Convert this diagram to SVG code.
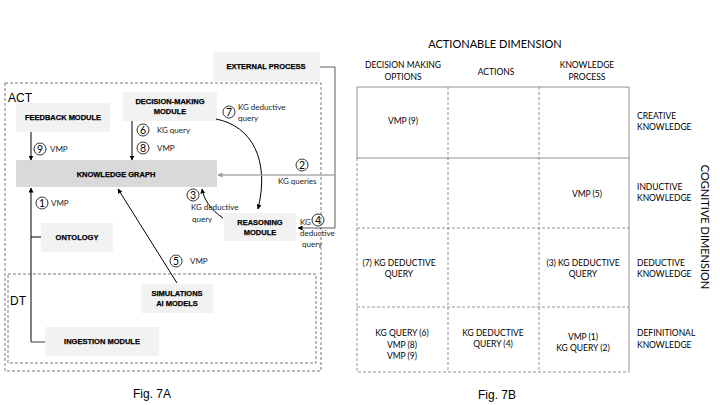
<svg xmlns="http://www.w3.org/2000/svg" width="720" height="405" viewBox="0 0 720 405">
<defs>
<marker id="ah" viewBox="0 0 10 10" refX="9" refY="5" markerWidth="5" markerHeight="5" markerUnits="userSpaceOnUse" orient="auto"><path d="M0,0 L10,5 L0,10 z" fill="#000"/></marker>
<marker id="ahg" viewBox="0 0 10 10" refX="9" refY="5" markerWidth="5" markerHeight="5" markerUnits="userSpaceOnUse" orient="auto"><path d="M0,0 L10,5 L0,10 z" fill="#999"/></marker>
<style>
.box{fill:#f2f2f2;stroke:none}
.kg{fill:#d9d9d9;stroke:none}
.bl{font-family:"Liberation Sans",Arial,sans-serif;font-weight:bold;font-size:7.5px;fill:#000;stroke:#000;stroke-width:0.25;text-anchor:middle}
.sm{font-family:Lato,"Liberation Sans",sans-serif;font-size:8px;fill:#222}
.num{font-family:Lato,"Liberation Sans",sans-serif;font-size:10.5px;fill:#000;text-anchor:middle}
.circ{fill:none;stroke:#000;stroke-width:0.8}
.dash{fill:none;stroke:#555;stroke-width:0.8;stroke-dasharray:3,2}
.big{font-family:"Liberation Sans",Arial,sans-serif;font-size:12px;fill:#000}
.ln{fill:none;stroke:#000;stroke-width:1}
.gt{font-family:Lato,"Liberation Sans",sans-serif;font-size:8.5px;fill:#000;text-anchor:middle}
.rl{font-family:Lato,"Liberation Sans",sans-serif;font-size:8.5px;fill:#000}
.hd{font-family:Lato,"Liberation Sans",sans-serif;font-size:11px;fill:#000;text-anchor:middle}
.gs{fill:none;stroke:#777;stroke-width:0.8}
.gd{fill:none;stroke:#777;stroke-width:0.8;stroke-dasharray:3,2}
</style>
</defs>

<!-- Fig 7A containers -->
<rect class="dash" x="5" y="83" width="316" height="288"/>
<text class="big" x="8" y="102">ACT</text>
<rect class="dash" x="8" y="274" width="308" height="89"/>
<text class="big" x="10" y="305">DT</text>

<g id="external-process"><rect class="box" x="213" y="52" width="107" height="29"/><text class="bl" x="266" y="69">EXTERNAL PROCESS</text></g>
<g id="feedback-module"><rect class="box" x="16" y="103" width="94" height="29"/><text class="bl" x="63" y="120">FEEDBACK MODULE</text></g>
<g id="decision-making-module"><rect class="box" x="123" y="92" width="94" height="29"/><text class="bl" x="170" y="104">DECISION-MAKING</text><text class="bl" x="170" y="114">MODULE</text></g>
<g id="knowledge-graph"><rect class="kg" x="16" y="160" width="201" height="27"/><text class="bl" x="116" y="177">KNOWLEDGE GRAPH</text></g>
<g id="reasoning-module"><rect class="box" x="224" y="213" width="72" height="28"/><text class="bl" x="260" y="225">REASONING</text><text class="bl" x="260" y="235">MODULE</text></g>
<g id="ontology"><rect class="box" x="41" y="223" width="72" height="29"/><text class="bl" x="77" y="240">ONTOLOGY</text></g>
<g id="simulations-ai-models"><rect class="box" x="141" y="284" width="72" height="29"/><text class="bl" x="177" y="296">SIMULATIONS</text><text class="bl" x="177" y="306">AI MODELS</text></g>
<g id="ingestion-module"><rect class="box" x="45" y="327" width="114" height="29"/><text class="bl" x="102" y="344">INGESTION MODULE</text></g>

<g id="connectors">
<line class="ln" x1="31" y1="132" x2="31" y2="160" marker-end="url(#ah)"/>
<line class="ln" x1="132" y1="121" x2="132" y2="160" marker-end="url(#ah)"/>
<path class="ln" d="M216 119 C252 126 270 160 258 209" marker-end="url(#ah)"/>
<path class="ln" d="M223 218 C211 210 204 200 202 189" marker-end="url(#ah)"/>
<line class="ln" x1="177" y1="283" x2="118" y2="189" marker-end="url(#ah)"/>
<line class="ln" stroke-width="1.3" x1="31" y1="342" x2="31" y2="188" marker-end="url(#ah)"/>
<line class="ln" x1="31" y1="237" x2="41" y2="237"/>
<line x1="31" y1="342" x2="45" y2="342" stroke="#666" stroke-width="1.3"/>
<path fill="none" stroke="#333" stroke-width="0.8" d="M320 67 H335 V228 H298" marker-end="url(#ah)"/>
<line stroke="#aaa" stroke-width="1.6" x1="335" y1="175" x2="218" y2="175" marker-end="url(#ahg)"/>
</g>

<!-- connector labels -->
<circle class="circ" cx="40" cy="149" r="6"/><text class="num" x="40" y="153">9</text><text class="sm" x="50" y="152">VMP</text>
<circle class="circ" cx="143" cy="130" r="6"/><text class="num" x="143" y="134">6</text><text class="sm" x="157" y="133">KG query</text>
<circle class="circ" cx="143" cy="148" r="6"/><text class="num" x="143" y="152">8</text><text class="sm" x="157" y="151">VMP</text>
<circle class="circ" cx="229" cy="112" r="6"/><text class="num" x="229" y="116">7</text><text class="sm" x="238" y="110">KG deductive</text><text class="sm" x="238" y="121">query</text>
<circle class="circ" cx="302" cy="165" r="6"/><text class="num" x="302" y="169">2</text><text class="sm" x="278" y="184">KG queries</text>
<circle class="circ" cx="193" cy="195" r="6"/><text class="num" x="193" y="199">3</text><text class="sm" x="191" y="210">KG deductive</text><text class="sm" x="192" y="222">query</text>
<text class="sm" x="300" y="225">KG</text><circle class="circ" cx="318" cy="220" r="6"/><text class="num" x="318" y="224">4</text><text class="sm" x="300" y="236">deductive</text><text class="sm" x="302" y="247">query</text>
<circle class="circ" cx="42" cy="203" r="6"/><text class="num" x="42" y="207">1</text><text class="sm" x="51" y="206">VMP</text>
<circle class="circ" cx="176" cy="261" r="6"/><text class="num" x="176" y="265">5</text><text class="sm" x="190" y="264">VMP</text>
<text class="big" x="152" y="398" text-anchor="middle">Fig. 7A</text>

<!-- Fig 7B -->
<text class="hd" x="495" y="48">ACTIONABLE DIMENSION</text>
<text class="gt" x="403" y="68">DECISION MAKING</text><text class="gt" x="403" y="80">OPTIONS</text>
<text class="gt" x="496" y="75">ACTIONS</text>
<text class="gt" x="587" y="68">KNOWLEDGE</text><text class="gt" x="587" y="80">PROCESS</text>

<path class="gs" d="M357 158 V87 H629 V372 M357 158 H629"/>
<path class="gd" d="M357 158 V372 H629 M357 228 H629 M357 307 H629 M448 87 V372 M539 87 V372"/>

<text class="gt" x="403" y="124">VMP (9)</text>
<text class="gt" x="587" y="197">VMP (5)</text>
<text class="gt" x="399" y="266">(7) KG DEDUCTIVE</text><text class="gt" x="399" y="277">QUERY</text>
<text class="gt" x="583" y="266">(3) KG DEDUCTIVE</text><text class="gt" x="583" y="277">QUERY</text>
<text class="gt" x="402" y="336">KG QUERY (6)</text><text class="gt" x="402" y="348">VMP (8)</text><text class="gt" x="402" y="359">VMP (9)</text>
<text class="gt" x="493" y="336">KG DEDUCTIVE</text><text class="gt" x="493" y="347">QUERY (4)</text>
<text class="gt" x="583" y="340">VMP (1)</text><text class="gt" x="583" y="351">KG QUERY (2)</text>

<text class="rl" x="637" y="119">CREATIVE</text><text class="rl" x="637" y="130">KNOWLEDGE</text>
<text class="rl" x="637" y="190">INDUCTIVE</text><text class="rl" x="637" y="201">KNOWLEDGE</text>
<text class="rl" x="637" y="266">DEDUCTIVE</text><text class="rl" x="637" y="277">KNOWLEDGE</text>
<text class="rl" x="637" y="336">DEFINITIONAL</text><text class="rl" x="637" y="348">KNOWLEDGE</text>
<text class="hd" transform="translate(701 227) rotate(90)" x="0" y="0">COGNITIVE DIMENSION</text>
<text class="big" x="497" y="399" text-anchor="middle">Fig. 7B</text>
</svg>
